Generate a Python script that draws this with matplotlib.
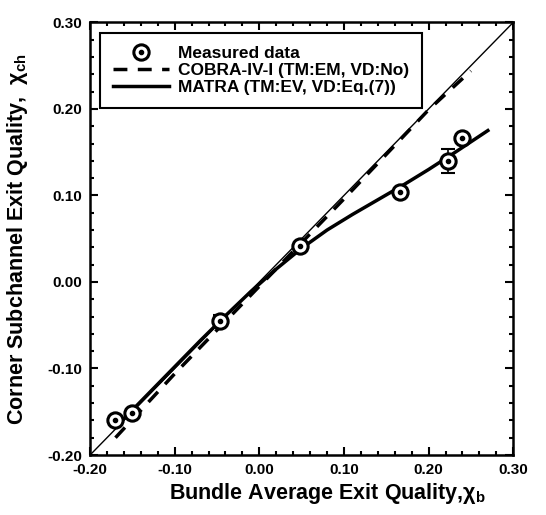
import matplotlib
matplotlib.use("Agg")
import matplotlib.pyplot as plt
import numpy as np
from matplotlib.lines import Line2D

plt.rcParams['font.family'] = ['Liberation Sans', 'DejaVu Sans']
plt.rcParams['mathtext.fontset'] = 'custom'
plt.rcParams['mathtext.rm'] = 'Liberation Sans:bold'
plt.rcParams['mathtext.it'] = 'Liberation Sans:bold'
plt.rcParams['mathtext.bf'] = 'Liberation Sans:bold'
plt.rcParams['mathtext.default'] = 'rm'

# Measured data
meas_x = [-0.170, -0.150, -0.047, 0.048, 0.166, 0.223, 0.240]
meas_y = [-0.160, -0.151, -0.045, 0.042, 0.104, 0.140, 0.166]
meas_err = [0.003, 0.003, 0.007, 0.003, 0.003, 0.014, 0.003]

# COBRA-IV-I prediction
cobra_x = [-0.170, -0.100, 0.000, 0.100, 0.200, 0.250]
cobra_y = [-0.180, -0.106, -0.005, 0.096, 0.199, 0.244]

# MATRA prediction
matra_x = [-0.17, -0.12, -0.07, -0.04, -0.01, 0.02, 0.05, 0.08, 0.11, 0.14, 0.17, 0.20, 0.23, 0.27]
matra_y = [-0.168, -0.118, -0.068, -0.039, -0.011, 0.015, 0.039, 0.060, 0.078, 0.095, 0.112, 0.130, 0.149, 0.175]

ticks = [-0.20, -0.10, 0.00, 0.10, 0.20, 0.30]
tick_labels = ['-0.20', '-0.10', '0.00', '0.10', '0.20', '0.30']

fig = plt.figure(figsize=(5.46, 5.15), dpi=100)
ax = fig.add_axes([0.165, 0.1165, 0.775, 0.84])

ax.plot([-0.2, 0.3], [-0.2, 0.3], color='black', lw=1.0, zorder=1)
ax.plot(cobra_x, cobra_y, color='black', lw=2.5, ls=(0, (4, 3)), zorder=2)
ax.plot(matra_x, matra_y, color='black', lw=2.5, zorder=2)
ax.errorbar(meas_x, meas_y, yerr=meas_err, fmt='none', ecolor='black',
            elinewidth=1.2, capsize=5, capthick=1.5, zorder=3)
ax.plot(meas_x, meas_y, ls='none', marker='o', ms=11, mfc='white', mec='black',
        mew=2.2, zorder=4)
ax.plot(meas_x, meas_y, ls='none', marker='o', ms=3, color='black', zorder=5)

h_meas = (Line2D([], [], ls='none', marker='o', ms=11, mfc='white', mec='black', mew=2.2),
          Line2D([], [], ls='none', marker='o', ms=3, color='black'))
h_cobra = Line2D([], [], color='black', lw=2.5, ls=(0, (4, 3)))
h_matra = Line2D([], [], color='black', lw=2.5)
leg = ax.legend([h_meas, h_cobra, h_matra],
                ['Measured data', 'COBRA-IV-I (TM:EM, VD:No)', 'MATRA (TM:EV, VD:Eq.(7))'],
                loc='upper left', bbox_to_anchor=(0.024, 0.975), borderaxespad=0,
                frameon=True, fancybox=False, edgecolor='black', framealpha=1,
                prop={'size': 12.5, 'weight': 'bold'}, handlelength=3.2,
                borderpad=0.75, labelspacing=0.1, handletextpad=0.5)
leg.get_frame().set_linewidth(1.5)

ax.set_xlim(-0.2, 0.3)
ax.set_ylim(-0.2, 0.3)
ax.set_xticks(ticks)
ax.set_xticklabels(tick_labels)
ax.set_yticks(ticks)
ax.set_yticklabels(tick_labels)
ax.set_xticks(np.arange(-0.2, 0.3001, 0.02), minor=True)
ax.set_yticks(np.arange(-0.2, 0.3001, 0.02), minor=True)
ax.tick_params(which='both', direction='in', top=True, right=True, width=1.5)
ax.tick_params(which='major', length=6, labelsize=11, pad=6)
ax.tick_params(which='minor', length=3)
for lab in ax.get_xticklabels() + ax.get_yticklabels():
    lab.set_fontweight('bold')
for sp in ax.spines.values():
    sp.set_linewidth(1.8)

fig.text(328 / 546, 1 - 493 / 515, r'Bundle Average Exit Quality,$\chi_b$',
         fontsize=15.5, fontweight='bold', ha='center', va='center')
fig.text(18 / 546, 1 - 239 / 515, r'Corner Subchannel Exit Quality,  $\chi_{ch}$',
         fontsize=15.5, fontweight='bold', ha='center', va='center', rotation=90)

fig.savefig('out.png', dpi=100)
